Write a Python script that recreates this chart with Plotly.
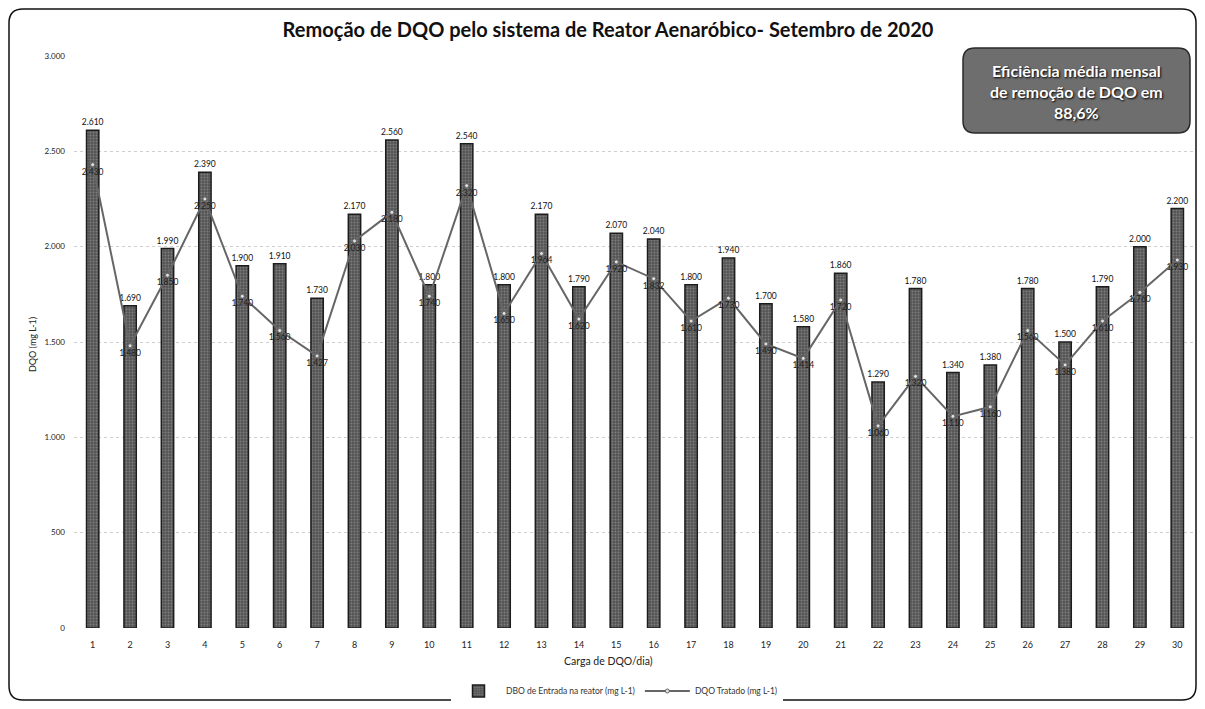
import plotly.graph_objects as go

days = [str(i) for i in range(1, 31)]
dqo_entrada = [2610, 1690, 1990, 2390, 1900, 1910, 1730, 2170, 2560, 1800,
               2540, 1800, 2170, 1790, 2070, 2040, 1800, 1940, 1700, 1580,
               1860, 1290, 1780, 1340, 1380, 1780, 1500, 1790, 2000, 2200]
dqo_tratado = [2430, 1480, 1850, 2250, 1740, 1560, 1427, 2030, 2180, 1740,
               2320, 1650, 1964, 1620, 1920, 1832, 1610, 1730, 1490, 1414,
               1720, 1060, 1320, 1110, 1160, 1560, 1380, 1610, 1760, 1930]
y_ticks = [0, 500, 1000, 1500, 2000, 2500, 3000]

# the page body adds an 8px margin on every side; keep the figure inside the
# viewport and work in screenshot pixels
OFF = 8
W, H = 1205 - 2 * OFF, 709 - 2 * OFF
PL, PR, PT, PB = 74, 1196, 56, 628          # plot area in screenshot pixels
L, T = PL - OFF, PT - OFF
R, B = W - (PR - OFF), H - (PB - OFF)
PW, PH = PR - PL, PB - PT


def px(x):
    return (x - PL) / PW


def py(y):
    return (PB - y) / PH


def rounded_path(x0, y0, x1, y1, r):
    return (f"M {px(x0 + r)},{py(y0)} L {px(x1 - r)},{py(y0)} "
            f"Q {px(x1)},{py(y0)} {px(x1)},{py(y0 + r)} "
            f"L {px(x1)},{py(y1 - r)} Q {px(x1)},{py(y1)} {px(x1 - r)},{py(y1)} "
            f"L {px(x0 + r)},{py(y1)} Q {px(x0)},{py(y1)} {px(x0)},{py(y1 - r)} "
            f"L {px(x0)},{py(y0 + r)} Q {px(x0)},{py(y0)} {px(x0 + r)},{py(y0)} Z")


FONT = "Lato, 'Open Sans', sans-serif"

fig = go.Figure()
fig.add_trace(go.Bar(
    x=days, y=dqo_entrada,
    name="DBO de Entrada na reator (mg L-1)",
    marker=dict(color="#5e5e5e", line=dict(color="#1c1c1c", width=1.5),
                pattern=dict(shape=".", fgcolor="#a8a8a8", bgcolor="#555555",
                             size=3, solidity=0.3)),
    width=0.33,
    text=dqo_entrada, texttemplate="%{y:,d}", textposition="outside",
    constraintext="none",
    textfont=dict(size=8.5, color="#111", family=FONT),
    cliponaxis=False,
))
fig.add_trace(go.Scatter(
    x=days, y=dqo_tratado,
    name="DQO Tratado (mg L-1)",
    mode="lines+markers+text",
    line=dict(color="#666666", width=2),
    marker=dict(size=4, color="#e0e0e0", line=dict(color="#666666", width=1)),
    text=dqo_tratado, texttemplate="%{y:,d}", textposition="bottom center",
    textfont=dict(size=8.5, color="#222", family=FONT),
    cliponaxis=False,
))

shapes = [
    dict(type="path", xref="paper", yref="paper",
         path=rounded_path(OFF + 1, OFF + 1, 1196, 700, 14),
         line=dict(color="#111", width=1.5), fillcolor="rgba(0,0,0,0)", layer="below"),
    dict(type="path", xref="paper", yref="paper",
         path=rounded_path(963, 48, 1190, 133, 12),
         line=dict(color="#2a2a2a", width=1.5), fillcolor="#6e6e6e", layer="above"),
]

annotations = [
    dict(text="<b>Eficiência média mensal<br>de remoção de DQO em<br>88,6%</b>",
         xref="paper", yref="paper", x=px(1076), y=py(92),
         xanchor="center", yanchor="middle", showarrow=False, align="center",
         font=dict(size=16, color="white", family=FONT, shadow="1px 1px 2px #000")),
    dict(text="Carga de DQO/dia)", xref="paper", yref="paper",
         x=px(608), y=py(661), xanchor="center", yanchor="middle", showarrow=False,
         font=dict(size=10.5, color="#222", family=FONT)),
    dict(text="DQO (mg L-1)", xref="paper", yref="paper", textangle=-90,
         x=px(32), y=py(345), xanchor="center", yanchor="middle", showarrow=False,
         font=dict(size=9, color="#222", family=FONT)),
]

fig.update_layout(
    width=W, height=H,
    margin=dict(l=L, r=R, t=T, b=B, autoexpand=False),
    paper_bgcolor="white", plot_bgcolor="white",
    separators=",.",
    font=dict(family=FONT, color="#222"),
    title=dict(text="<b>Remoção de DQO pelo sistema de Reator Aenaróbico- Setembro de 2020</b>",
               x=(608 - OFF) / W, xanchor="center", y=(H - (30 - OFF)) / H, yanchor="middle",
               yref="container", font=dict(size=20, color="#111", family=FONT)),
    bargap=0.67,
    showlegend=True,
    legend=dict(orientation="h", xref="container", yref="container",
                x=(617 - OFF) / W, xanchor="center",
                y=(H - (691 - OFF)) / H, yanchor="middle",
                font=dict(size=8.5, color="#333", family=FONT), itemwidth=45),
    xaxis=dict(type="category", range=[-0.5, 29.5], autorange=False,
               showgrid=False, showline=False, ticks="", automargin=False,
               ticklabelstandoff=10, tickfont=dict(size=9, color="#222")),
    yaxis=dict(range=[0, 3000], autorange=False, tickvals=y_ticks, tickformat=",d",
               showgrid=True, gridcolor="#cfcfcf", griddash="dot", gridwidth=1,
               zeroline=False, showline=False, ticks="", ticklabelstandoff=8,
               automargin=False, tickfont=dict(size=8, color="#222")),
    shapes=shapes,
    annotations=annotations,
)

fig.write_html("out.html")
